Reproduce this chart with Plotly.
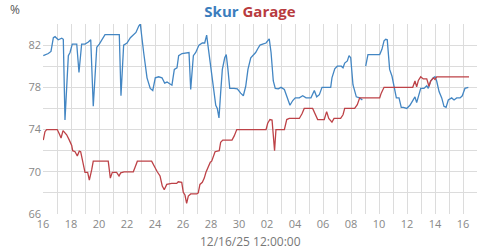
import pandas as pd
import plotly.graph_objects as go

START = pd.Timestamp("2025-11-16 00:00")

# Skur (blue) - day offsets from Nov 16 and humidity %
skur_day = [0.02, 0.38, 0.57, 0.74, 0.86, 1.09, 1.34, 1.45, 1.57, 1.81, 1.93, 2.09, 2.41, 2.57, 2.76, 3.0,
            3.24, 3.41, 3.59, 3.84, 4.02, 4.43, 5.45, 5.57, 5.76, 6.0, 6.24, 6.48, 6.64, 6.84, 6.95, 7.19,
            7.43, 7.66, 7.84, 8.02, 8.26, 8.5, 8.69, 8.86, 9.02, 9.21, 9.38, 9.57, 9.69, 9.93, 10.43, 10.55,
            10.74, 10.91, 11.14, 11.38, 11.55, 11.69, 11.79, 11.98, 12.16, 12.34, 12.45, 12.57, 12.69, 12.81,
            12.98, 13.09, 13.21, 13.34, 13.64, 13.88, 14.12, 14.31, 14.48, 14.64, 14.84, 15.02, 15.19, 15.36,
            15.5, 15.69, 15.93, 16.16, 16.29, 16.45, 16.59, 16.81, 17.0, 17.24, 17.48, 17.64, 17.84, 18.02,
            18.31, 18.55, 18.79, 19.14, 19.38, 19.55, 19.74, 19.93, 20.55, 20.64, 20.84, 21.02, 21.31, 21.43,
            21.55, 21.74, 21.86, 21.98, 22.14, 22.38, 22.62, 22.81, 22.93, 23.05, 23.21, 24.05, 24.21, 24.36,
            24.48, 24.59, 24.76, 24.93, 25.07, 25.24, 25.43, 25.59, 25.74, 25.98, 26.21, 26.41, 26.57, 26.69,
            26.81, 26.98, 27.21, 27.41, 27.52, 27.69, 27.88, 28.0, 28.12, 28.29, 28.48, 28.64, 28.79, 28.95,
            29.19, 29.36, 29.55, 29.79, 29.95, 30.14, 30.38]
skur_val = [81.0, 81.2, 81.4, 82.7, 82.8, 82.5, 82.65, 82.55, 74.9, 81.0, 81.3, 82.1, 82.1, 79.4, 82.1, 82.1,
            82.3, 82.5, 76.2, 81.8, 82.1, 83.0, 83.0, 77.2, 82.0, 82.2, 82.7, 83.0, 83.2, 83.8, 84.0, 81.3,
            78.9, 77.9, 77.7, 78.9, 79.0, 78.9, 78.4, 78.5, 78.35, 78.2, 79.7, 79.85, 81.0, 81.2, 81.3, 77.8,
            81.0, 81.3, 82.0, 82.2, 82.2, 82.95, 81.9, 80.0, 78.1, 76.3, 76.0, 75.1, 77.5, 79.7,
            80.8, 81.1, 79.7, 77.9, 77.9, 77.85, 77.45, 77.2, 78.1, 79.7, 80.8, 81.1, 81.3, 81.7,
            82.0, 82.1, 82.2, 82.6, 81.3, 78.6, 77.9, 77.85, 78.0, 77.8, 76.8, 76.3, 76.75, 77.0,
            77.0, 77.2, 77.0, 77.0, 77.7, 77.1, 77.3, 78.0, 78.0, 78.9, 79.75, 80.0, 80.0, 79.85,
            80.3, 80.5, 81.0, 80.8, 78.25, 77.1, 77.0, 76.8, None, 80.0, 81.1, 81.1, 81.6, 82.4,
            82.55, 82.5, 79.7, 79.05, 78.25, 77.0, 77.0, 76.1, 76.1, 76.0, 76.3, 76.8, 77.1, 76.55,
            77.1, 77.9, 77.9, 78.15, 77.9, 78.6, 78.9, 79.0, 78.6, 77.6, 77.0, 76.2, 76.1, 76.8,
            77.0, 76.8, 77.0, 77.0, 77.2, 77.9, 78.0]

# Garage (red)
garage_day = [0.02, 0.14, 0.26, 1.02, 1.16, 1.29, 1.43, 1.69, 1.88, 2.05, 2.12, 2.29, 2.45, 2.59, 2.69, 2.88,
              3.0, 3.19, 3.31, 3.48, 3.59, 4.66, 4.81, 4.95, 5.26, 5.43, 5.55, 5.79, 6.45, 6.57, 6.74, 7.76,
              8.0, 8.16, 8.36, 8.52, 8.66, 8.84, 9.19, 9.55, 9.66, 9.91, 10.02, 10.14, 10.26, 10.38, 10.55,
              10.98, 11.09, 11.21, 11.38, 11.52, 11.64, 11.81, 11.95, 12.05, 12.16, 12.29, 12.59, 12.69, 12.84,
              13.5, 13.66, 13.84, 15.93, 16.05, 16.21, 16.36, 16.54, 16.64, 17.24, 17.41, 17.59, 18.31, 18.5,
              18.66, 19.26, 19.45, 19.62, 20.09, 20.26, 20.41, 20.64, 20.79, 21.26, 21.43, 21.55, 22.26, 22.45,
              22.62, 24.05, 24.16, 24.36, 26.41, 26.57, 26.69, 26.81, 26.98, 27.16, 27.41, 27.57, 27.69, 27.88,
              28.0, 28.12, 30.43]
garage_val = [73.0, 73.8, 74.0, 74.0, 73.6, 73.2, 73.9, 73.5, 73.0, 72.5, 72.0, 71.9, 71.5, 71.95, 71.9, 70.7,
              69.95, 69.95, 69.2, 70.2, 71.0, 71.0, 69.4, 69.95, 69.95, 69.6, 69.9, 70.0, 70.0, 70.4, 71.0, 71.0,
              70.3, 70.0, 69.6, 68.65, 68.3, 68.8, 68.9, 68.9, 69.05, 69.0, 68.05, 67.8, 67.0, 67.7, 67.9,
              67.9, 68.0, 68.8, 69.0, 69.4, 69.95, 70.4, 70.9, 71.0, 71.5, 71.9, 72.0, 72.8, 73.0,
              73.0, 73.4, 74.0, 74.0, 74.6, 74.95, 74.9, 72.0, 74.0, 74.0, 74.95, 75.05, 75.05, 75.5,
              76.0, 76.0, 75.5, 74.95, 74.95, 75.7, 75.05, 74.7, 75.05, 75.05, 75.4, 76.0, 76.0, 76.35,
              77.0, 77.0, 77.45, 78.0, 78.0, 78.6, 78.05, 78.65, 79.0, 78.8, 78.8, 78.1, 78.6, 78.9,
              78.75, 79.0, 79.0]

Y_TICKS = [66, 70, 74, 78, 82]
BLUE = "#4386c3"
RED = "#bd4247"
FONT = "Open Sans"


def to_time(days):
    return [START + pd.to_timedelta(d, unit="D") for d in days]


fig = go.Figure()
fig.add_trace(go.Scatter(x=to_time(skur_day), y=skur_val, mode="lines", name="Skur",
                         line=dict(color=BLUE, width=1.3), connectgaps=False))
fig.add_trace(go.Scatter(x=to_time(garage_day), y=garage_val, mode="lines", name="Garage",
                         line=dict(color=RED, width=1.3)))

grid = "#dcdcdc"
fig.update_layout(
    width=500, height=250,
    margin=dict(l=43, r=23, t=24, b=36),
    paper_bgcolor="white", plot_bgcolor="white",
    showlegend=False,
    font=dict(family=FONT, color="#888", size=11),
    title=dict(text=f"<b><span style='color:#3b7dbd'>Skur</span> <span style='color:#b83b3e'>Garage</span></b>",
               x=0.5, xanchor="center", y=0.955, yanchor="middle", font=dict(size=15, family=FONT)),
    xaxis=dict(
        type="date",
        range=[START, START + pd.Timedelta(days=31)],
        tick0=START, dtick=2 * 86400000, tickformat="%d",
        showgrid=True, gridcolor=grid, gridwidth=1,
        minor=dict(dtick=86400000, tick0=START, showgrid=True, gridcolor=grid, gridwidth=1),
        zeroline=False, showline=False, ticks="", ticklen=0, ticklabelstandoff=2,
        tickfont=dict(size=11, color="#888"),
    ),
    yaxis=dict(
        range=[66, 84], tickvals=Y_TICKS,
        showgrid=True, gridcolor=grid, gridwidth=1,
        minor=dict(dtick=2, tick0=66, showgrid=True, gridcolor=grid, gridwidth=1),
        zeroline=False, showline=False, ticks="", ticklen=0, ticklabelstandoff=1,
        tickfont=dict(size=11, color="#888"),
    ),
    annotations=[
        dict(text="%", xref="paper", yref="paper", x=-0.064, y=1.075, xanchor="center", yanchor="middle",
             showarrow=False, font=dict(size=12, color="#555", family=FONT)),
        dict(text="12/16/25 12:00:00", xref="paper", yref="paper", x=0.477, y=-0.145,
             xanchor="center", yanchor="middle", showarrow=False, font=dict(size=12, color="#777", family=FONT)),
    ],
)

fig.write_html("out.html")
